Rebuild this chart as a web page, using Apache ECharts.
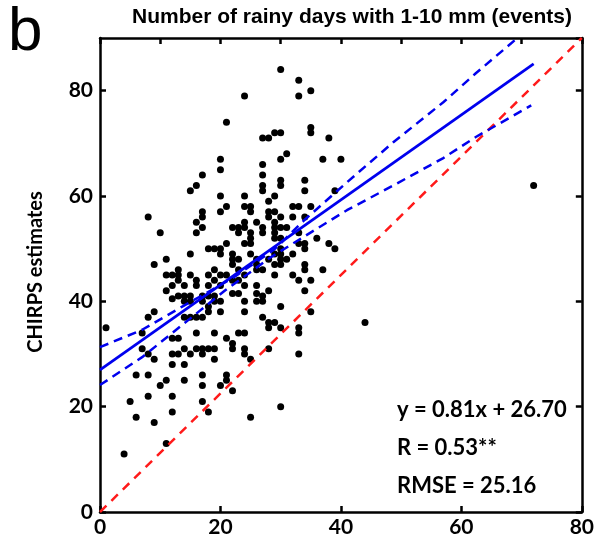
<!DOCTYPE html>
<html>
<head>
<meta charset="utf-8">
<script src="https://cdn.jsdelivr.net/npm/echarts@6/dist/echarts.min.js"></script>
<style>html,body{margin:0;padding:0;background:#fff;}#chart{width:597px;height:549px;}</style>
</head>
<body>
<div id="chart"></div>
<script>
// Observed (x) vs CHIRPS estimates (y)
const points = [
[30,84],[33,82],[33,79],[35,80],[24,79],[21,74],
[27,71],[28,71],[29,72],[30,72],[35,73],[35,72],[38,71],
[30,67],[31,68],[37,67],[40,67],[20,67],[20,65],
[27,66],[27,64],[27,62],[27,61],[30,63],[30,62],[34,63],[34,61],
[17,64],[16,62],[15,61],[20,60],[20,57],[21,58],
[24,60],[24,58],[25,58],[25,57],[17,57],[17,56],[16,55],[16,53],[17,54],
[8,56],[10,53],[28,59],[29,60],[28,57],[29,57],[30,56],[28,56],
[32,58],[33,58],[35,58],[32,56],[34,56],[26,55],
[24,55],[24,54],[23,54],[23,53],[22,54],
[25,53],[25,52],[25,51],[27,54],[27,53],
[29,55],[29,54],[30,54],[31,54],[29,53],[29,52],[30,52],
[33,53],[33,51],[34,51],[34,50],[36,52],[38,51],[39,50],[39,61],
[18,50],[19,50],[20,50],[20,49],[21,51],[22,49],[22,48],[23,48],
[15,49],[24,51],[25,49],[30,50],[30,49],[32,49],[11,48],
[1,35],[9,47],[13,45],[12,45],[11,45],[13,46],[13,44],[12,43],[11,42],[14,43],
[15,45],[16,44],[16,43],[12,40.5],[13,41],[14,41],[14,40],[15,41],[15,40],
[18,45],[19,46],[19,44],[18,43],[20,45],[20,43],
[17,41],[18,41],[17,40],[19,41],[19,40],[20,40],
[15,37],[16,37],[17,37],[18,39],[18,38],[20,38],
[22,47],[21,45],[22,44],[23,44],[23,46],[24,43],[24,45],
[22,41.5],[23,41.5],[24,40],[24,38],
[26,48],[26,47],[26,46],[27,46],[28,48],[29,49],[29,47],[29,45],
[26,43],[27,41],[27,40],[28,42],
[30,48],[30,47],[31,48],
[32,45],[33,44],[34,47],[34,46],[35,44],[34,42],[37,46],
[35,38],[27,37],[28,36],[29,36],[30,35],[30,39],[33,35],[33,34],[33,30],[28,31],
[21,33],[22,32],[22,31],[23,34],[24,34],[24,31],[24,30],
[19,34],[16,34],[14,37],[12,33],[13,33],[14,31],
[15,30],[16,31],[17,31],[18,31],[19,31],[17,30],[19,29],
[12,30],[13,30],[12,28],[14,28],
[8,37],[9,38],[7,34],[7,31],[8,30],[9,29],
[6,26],[8,26],[10,24],[11,25],[8,22],[5,21],[6,18],[9,17],
[12,22],[12,19],[14,25],[17,26],[17,24],[17,21],[18,19],
[11,13],[20,24],[21,26],[21,25],[22,23],[25,18],[30,20],
[44,36],[72,62],[4,11],[28,35],[25,29],[26,41.5],[26,40]
];
const regressionLine = [[0,27.0],[72,85.1]];
const upperBand = [[0,31.3],[7,34.6],[13.5,38.9],[22,44.4],[29,49.9],[34,55.5],[41,62.6],[48.7,70.2],[57,77.8],[62.4,83.3],[69.3,90]];
const lowerBand = [[0,24.1],[7,29.4],[12,34.0],[20.8,42.1],[28.4,48.4],[35.6,53.5],[41,57.3],[48.7,62],[57,67.2],[62.4,71.2],[71.6,77.2]];
const oneToOne = [[0,0],[80,90]];
const titleText = 'Number of rainy days with 1-10 mm (events)';
const yName = 'CHIRPS estimates';
const statsLines = ['y = 0.81x + 26.70','R = 0.53**','RMSE = 25.16'];

const chart = echarts.init(document.getElementById('chart'), null, {renderer:'canvas'});
const axisLineStyle = {show:true, onZero:false, lineStyle:{color:'#000', width:2.5}};
const tickStyle = {show:true, inside:true, length:6, lineStyle:{color:'#000', width:2.5}};
const labelStyle = {color:'#000', fontFamily:'Lato', fontWeight:'bold', fontSize:21};
chart.setOption({
  animation:false,
  backgroundColor:'#fff',
  grid:{left:100, right:10, top:38, bottom:37, containLabel:false},
  xAxis:[
    {type:'value', min:0, max:80, interval:20, position:'bottom', axisLine:axisLineStyle, axisTick:tickStyle,
     axisLabel:Object.assign({margin:5}, labelStyle), splitLine:{show:false}},
    {type:'value', min:0, max:80, interval:10, position:'top', axisLine:axisLineStyle, axisTick:tickStyle,
     axisLabel:{show:false}, splitLine:{show:false}}
  ],
  yAxis:[
    {type:'value', min:0, max:90, interval:20, position:'left', axisLine:axisLineStyle, axisTick:tickStyle,
     axisLabel:Object.assign({margin:7, showMaxLabel:false}, labelStyle), splitLine:{show:false}},
    {type:'value', min:0, max:90, interval:20, position:'right', axisLine:axisLineStyle, axisTick:tickStyle,
     axisLabel:{show:false}, splitLine:{show:false}}
  ],
  series:[
    {type:'scatter', data:points, symbolSize:7, itemStyle:{color:'#000', opacity:1}, z:2},
    {type:'line', data:oneToOne, showSymbol:false, lineStyle:{color:'#ff1a1a', width:2.5, type:[9,7]}, z:3},
    {type:'line', data:upperBand, smooth:false, showSymbol:false, lineStyle:{color:'#0000ee', width:2.5, type:[9,6]}, z:4},
    {type:'line', data:lowerBand, smooth:false, showSymbol:false, lineStyle:{color:'#0000ee', width:2.5, type:[9,6]}, z:4},
    {type:'line', data:regressionLine, showSymbol:false, lineStyle:{color:'#0000ee', width:2.8}, z:5}
  ],
  graphic:[
    {type:'text', left:8, top:2, style:{text:'b', font:'62px "Liberation Sans", Arial, sans-serif', fill:'#000'}},
    {type:'text', x:352, y:17, style:{text:titleText, font:'bold 21px "Liberation Sans", Arial, sans-serif', fill:'#000', textAlign:'center', textVerticalAlign:'middle'}},
    {type:'text', x:36, y:272, rotation:Math.PI/2, style:{text:yName, font:'bold 20px Lato, sans-serif', fill:'#000', textAlign:'center', textVerticalAlign:'middle'}},
    {type:'text', x:397, y:410, style:{text:statsLines[0], font:'bold 22px Lato, sans-serif', fill:'#000', textVerticalAlign:'middle'}},
    {type:'text', x:397, y:448, style:{text:statsLines[1], font:'bold 22px Lato, sans-serif', fill:'#000', textVerticalAlign:'middle'}},
    {type:'text', x:397, y:486, style:{text:statsLines[2], font:'bold 22px Lato, sans-serif', fill:'#000', textVerticalAlign:'middle'}}
  ]
});
</script>
</body>
</html>
